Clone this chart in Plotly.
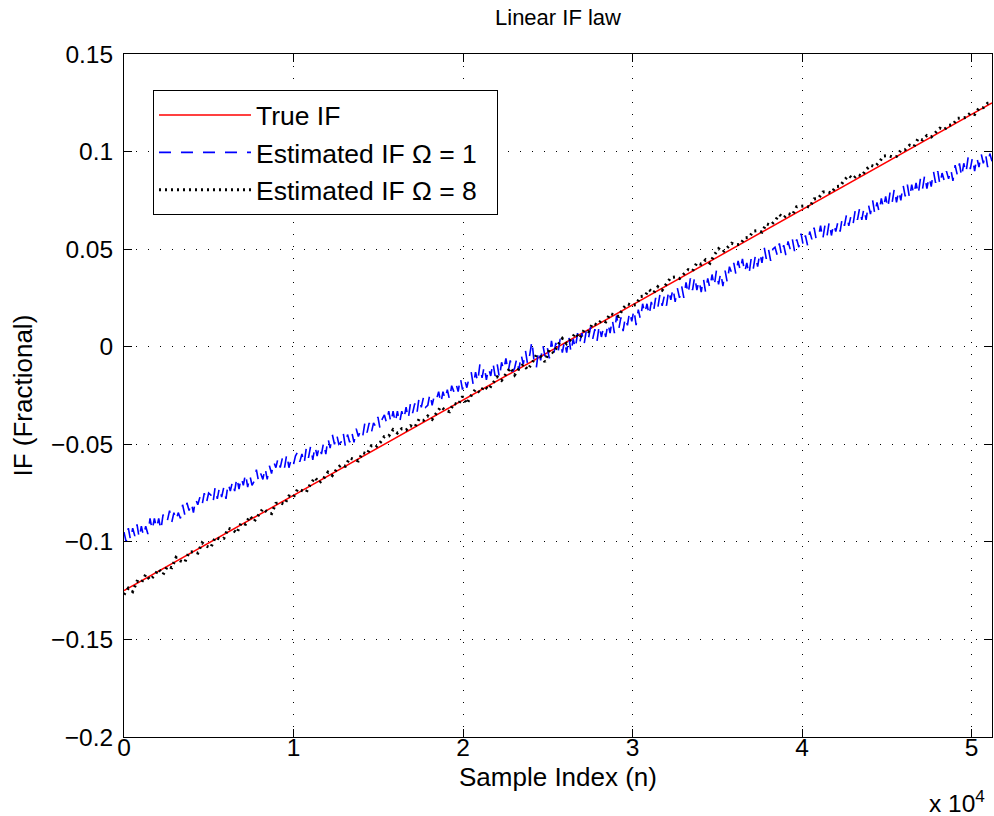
import plotly.graph_objects as go

# True instantaneous frequency: linear chirp end points
true_n = [0, 51200]
true_if = [-0.125, 0.125]

# Estimated IF, Omega = 1: one value every 128 samples (units of 1e-3)
w1_step = 128
est_if_w1_milli = [
    -95, -100, -93, -99, -93, -97, -91, -98, -92, -97, -92, -96, -88, -94, -88, -93, -88, -94, -86, -90,
    -89, -84, -90, -85, -89, -85, -88, -81, -86, -80, -84, -80, -85, -78, -81, -77, -81, -75, -80, -75,
    -76, -80, -72, -78, -72, -77, -72, -78, -70, -74, -69, -74, -67, -73, -67, -71, -65, -72, -66, -71,
    -69, -63, -69, -65, -68, -62, -68, -61, -65, -59, -62, -57, -62, -57, -62, -55, -62, -58, -61, -56,
    -54, -59, -55, -60, -52, -57, -51, -58, -51, -56, -51, -55, -49, -55, -47, -52, -45, -50, -45, -50,
    -49, -44, -51, -45, -49, -44, -49, -42, -46, -43, -46, -39, -44, -39, -44, -39, -41, -36, -42, -37,
    -35, -39, -33, -39, -33, -39, -33, -39, -33, -37, -31, -37, -29, -34, -29, -34, -26, -31, -26, -31,
    -30, -24, -30, -25, -27, -23, -29, -23, -27, -22, -27, -20, -23, -19, -23, -16, -22, -17, -21, -16,
    -13, -20, -13, -18, -9, -16, -10, -17, -11, -15, -8, -15, -9, -16, -8, -12, -6, -13, -7, -13,
    -11, -6, -12, -4, -9, -2, -9, -4, 3, -8, -11, -2, -7, 1, -5, 0, -6, 3, -4, 2,
    -3, 4, -3, 3, -3, 5, -3, 4, -1, 7, 2, 7, 1, 8, 4, 10, 4, 9, 3, 11,
    5, 10, 5, 12, 7, 14, 7, 16, 9, 15, 8, 15, 11, 18, 13, 19, 11, 19, 14, 22,
    17, 22, 16, 23, 18, 25, 20, 27, 21, 26, 21, 29, 24, 30, 23, 30, 25, 31, 25, 33,
    27, 35, 29, 36, 29, 34, 28, 35, 28, 35, 30, 37, 31, 39, 32, 38, 31, 39, 33, 41,
    38, 43, 37, 44, 39, 45, 38, 43, 37, 45, 40, 47, 41, 48, 43, 51, 45, 50, 44, 50,
    51, 47, 53, 47, 52, 47, 54, 50, 55, 49, 55, 51, 58, 52, 57, 52, 59, 55, 61, 55,
    56, 62, 55, 62, 57, 64, 57, 63, 59, 64, 59, 66, 62, 68, 62, 67, 63, 70, 65, 71,
    65, 71, 65, 73, 68, 75, 68, 74, 69, 76, 71, 77, 71, 79, 74, 81, 74, 80, 75, 83,
    77, 83, 76, 83, 78, 84, 78, 86, 81, 88, 81, 87, 82, 90, 84, 90, 83, 89, 85, 90,
    86, 91, 85, 93, 88, 94, 87, 94, 89, 97, 91, 97, 90, 97, 92, 99, 94, 99, 92, 99, 95,
]

# Estimated IF, Omega = 8: one value every 256 samples (units of 1e-3)
w8_step = 256
est_if_w8_milli = [
    -127, -123.75, -125.5, -120.25, -121, -116.75, -119.5, -117.25, -114, -116.75,
    -112.5, -113.25, -108, -109.75, -110.5, -105.25, -105, -105.75, -100.5, -102.25,
    -103, -97.75, -98.5, -98.25, -93, -93.75, -95.5, -90.25, -91, -86.75,
    -89.5, -86.25, -83, -84.75, -85.5, -80.25, -80, -80.75, -76.5, -77.25,
    -73, -73.75, -74.5, -70.25, -67, -69.75, -67.5, -64.25, -66, -62.75,
    -60.5, -61.25, -57, -57.75, -58.5, -54.25, -55, -50.75, -51.5, -49.25,
    -46, -45.75, -42.5, -44.25, -42, -42.75, -40.5, -41.25, -37, -37.75,
    -35.5, -37.25, -34, -30.75, -32.5, -33.25, -29, -29.75, -25.5, -29.25,
    -25, -21.75, -23.5, -20.25, -22, -18.75, -15.5, -17.25, -14, -10.75,
    -14.5, -11.25, -9, -11.75, -8.5, -4.25, -5, -7.75, -1.5, -3.25,
    1, 4.25, 1.5, 3.75, 7, 4.25, 8.5, 7.75, 12, 11.25,
    13.5, 12.75, 17, 16.25, 15.5, 19.75, 22, 21.25, 21.5, 25.75,
    26, 29.25, 27.5, 30.75, 29, 32.25, 35.5, 35.75, 35, 37.25,
    39.5, 38.75, 43, 42.25, 44.5, 42.75, 47, 50.25, 48.5, 50.75,
    53, 52.25, 52.5, 55.75, 56, 59.25, 59.5, 58.75, 63, 62.25,
    64.5, 67.75, 66, 68.25, 67.5, 71.75, 72, 72.25, 71.5, 75.75,
    76, 79.25, 79.5, 78.75, 82, 82.25, 85.5, 87.75, 86, 88.25,
    87.5, 90.75, 93, 92.25, 94.5, 97.75, 98, 97.25, 97.5, 100.75,
    101, 103.25, 102.5, 106.75, 106, 108.25, 107.5, 109.75, 112, 111.25,
    113.5, 113.75, 117, 117.25, 117.5, 119.75, 119, 122.25, 122.5, 124.75, 125,
]

w1_n = [i * w1_step for i in range(len(est_if_w1_milli))]
w8_n = [i * w8_step for i in range(len(est_if_w8_milli))]
est_if_w1 = [v / 1000 for v in est_if_w1_milli]
est_if_w8 = [v / 1000 for v in est_if_w8_milli]

x_tick_vals = [0, 10000, 20000, 30000, 40000, 50000]
x_tick_text = ["0", "1", "2", "3", "4", "5"]
y_tick_vals = [-0.2, -0.15, -0.1, -0.05, 0, 0.05, 0.1, 0.15]
y_tick_text = ["\u22120.2", "\u22120.15", "\u22120.1", "\u22120.05", "0", "0.05", "0.1", "0.15"]

FONT = "Liberation Sans, Arial, Helvetica, sans-serif"
TICK_SIZE = 24.5
LABEL_SIZE = 26
LEGEND_SIZE = 26.5
PAD = "\u00a0\u00a0"

fig = go.Figure()
fig.add_trace(go.Scatter(
    x=true_n, y=true_if, mode="lines", name="True IF" + PAD,
    line=dict(color="#ff0000", width=1.5), legendgroup="a",
))
fig.add_trace(go.Scatter(
    x=w1_n, y=est_if_w1, mode="lines", name="Estimated IF \u03a9 = 1" + PAD,
    line=dict(color="#0000ff", width=1.6, dash="12px,10px"), legendgroup="b",
))
fig.add_trace(go.Scatter(
    x=w8_n, y=est_if_w8, mode="lines", name="Estimated IF \u03a9 = 8" + PAD,
    line=dict(color="#000000", width=3, dash="2px,4px"), legendgroup="c",
))

axis_common = dict(
    showline=True, linecolor="black", linewidth=1, mirror="ticks",
    ticks="inside", ticklen=8, tickwidth=1, tickcolor="black",
    showgrid=True, gridcolor="black", gridwidth=1, griddash="1px,11px",
    zeroline=False, tickfont=dict(size=TICK_SIZE, color="black", family=FONT),
)

fig.update_xaxes(range=[0, 51200], tickvals=x_tick_vals, ticktext=x_tick_text,
                 ticklabelstandoff=-11, **axis_common)
fig.update_yaxes(range=[-0.2, 0.15], tickvals=y_tick_vals, ticktext=y_tick_text,
                 ticklabelstandoff=5, **axis_common)

label_font = dict(size=LABEL_SIZE, color="black", family=FONT)
fig.add_annotation(
    text="Sample Index (n)", xref="paper", yref="paper", x=0.5, y=-0.058,
    xanchor="center", yanchor="middle", showarrow=False, font=label_font,
)
fig.add_annotation(
    text="IF (Fractional)", xref="paper", yref="paper", x=-0.1175, y=0.5,
    xanchor="center", yanchor="middle", textangle=-90, showarrow=False, font=label_font,
)
fig.add_annotation(
    text="x 10<sup>4</sup>", xref="paper", yref="paper", x=0.994, y=-0.095,
    xanchor="right", yanchor="middle", showarrow=False,
    font=dict(size=TICK_SIZE, color="black", family=FONT),
)

fig.update_layout(
    width=994, height=816,
    margin=dict(l=124, r=2, t=54, b=79),
    paper_bgcolor="white", plot_bgcolor="white",
    font=dict(family=FONT, color="black"),
    title=dict(text="Linear IF law", x=0.5, xref="paper", y=1 - 17 / 816, yref="container",
               yanchor="middle", xanchor="center", font=dict(size=22, color="black", family=FONT)),
    legend=dict(
        x=0.0334, y=0.947, xanchor="left", yanchor="top",
        bgcolor="white", bordercolor="black", borderwidth=1,
        font=dict(size=LEGEND_SIZE, color="black", family=FONT),
        itemwidth=92, tracegroupgap=0, traceorder="grouped",
    ),
    showlegend=True,
)

fig.write_html("out.html")
